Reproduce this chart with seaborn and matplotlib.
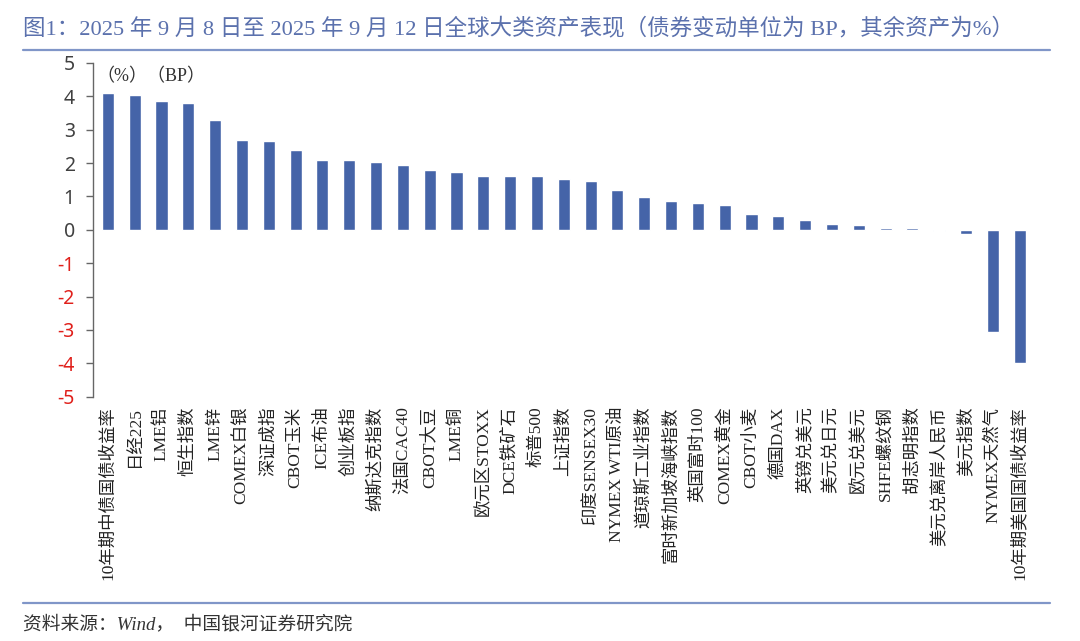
import matplotlib
matplotlib.use("Agg")
import matplotlib.pyplot as plt
import pandas as pd
import seaborn as sns

# 资产名称与周度涨跌幅
assets = ["10年期中债国债收益率", "日经225", "LME铝", "恒生指数", "LME锌", "COMEX白银",
          "深证成指", "CBOT玉米", "ICE布油", "创业板指", "纳斯达克指数", "法国CAC40",
          "CBOT大豆", "LME铜", "欧元区STOXX", "DCE铁矿石", "标普500", "上证指数",
          "印度SENSEX30", "NYMEX WTI原油", "道琼斯工业指数", "富时新加坡海峡指数",
          "英国富时100", "COMEX黄金", "CBOT小麦", "德国DAX", "英镑兑美元", "美元兑日元",
          "欧元兑美元", "SHFE螺纹钢", "胡志明指数", "美元兑离岸人民币", "美元指数",
          "NYMEX天然气", "10年期美国国债收益率"]
changes = [4.10, 4.05, 3.85, 3.80, 3.30, 2.70, 2.65, 2.38, 2.10, 2.10, 2.02, 1.95,
           1.78, 1.72, 1.60, 1.60, 1.60, 1.53, 1.47, 1.20, 0.97, 0.87, 0.80, 0.75,
           0.48, 0.42, 0.30, 0.18, 0.13, 0.04, 0.04, -0.05, -0.12, -3.05, -4.00]
yticks = [5, 4, 3, 2, 1, 0, -1, -2, -3, -4, -5]

title = "图1：2025 年 9 月 8 日至 2025 年 9 月 12 日全球大类资产表现（债券变动单位为 BP，其余资产为%）"
source = "资料来源：Wind，  中国银河证券研究院"

df = pd.DataFrame({"asset": assets, "change": changes})

sns.set_style("white")
fonts = ["Liberation Serif", "Noto Sans CJK SC", "DejaVu Sans"]
plt.rcParams["font.family"] = fonts

fig = plt.figure(figsize=(10.8, 6.41), dpi=100)
ax = fig.add_axes([0.086, 0.381, 0.872, 0.521])

sns.barplot(data=df, x="asset", y="change", color="#4564a8", saturation=1,
            width=0.45, ax=ax)

ax.set_ylim(-5, 5)
ax.set_xlim(-0.56, len(assets) - 0.44)
ax.set_yticks(yticks)
ax.set_yticklabels([str(t) for t in yticks], fontsize=14,
                   family=["Noto Sans", "DejaVu Sans"])
for lab, t in zip(ax.get_yticklabels(), yticks):
    lab.set_color("#e0201b" if t < 0 else "#404040")
ax.set_xlabel("")
ax.set_ylabel("")
ax.tick_params(axis="x", length=0, labelsize=12.5, labelrotation=90, pad=7)
ax.tick_params(axis="y", left=True, length=5, width=1, color="#666666",
               direction="out", pad=8)
for lab in ax.get_xticklabels():
    lab.set_color("#222222")

for s in ["top", "right", "bottom"]:
    ax.spines[s].set_visible(False)
ax.spines["left"].set_color("#666666")
ax.spines["left"].set_linewidth(1)

ax.text(0.004, 0.985, "（%）（BP）", transform=ax.transAxes, fontsize=13,
        color="#333333", va="top", ha="left")

# 标题、分隔线与资料来源
fig.text(0.021, 0.955, title, fontsize=16.2, color="#5b71ad", ha="left", va="center")
fig.add_artist(plt.Line2D([0.021, 0.972], [0.922, 0.922], color="#8096c8", lw=1.6,
                          transform=fig.transFigure))
fig.add_artist(plt.Line2D([0.021, 0.972], [0.059, 0.059], color="#8096c8", lw=1.6,
                          transform=fig.transFigure))
fig.text(0.021, 0.026, source, fontsize=13.5, color="#333333", style="italic",
         ha="left", va="center")

fig.savefig("out.png", dpi=100)
